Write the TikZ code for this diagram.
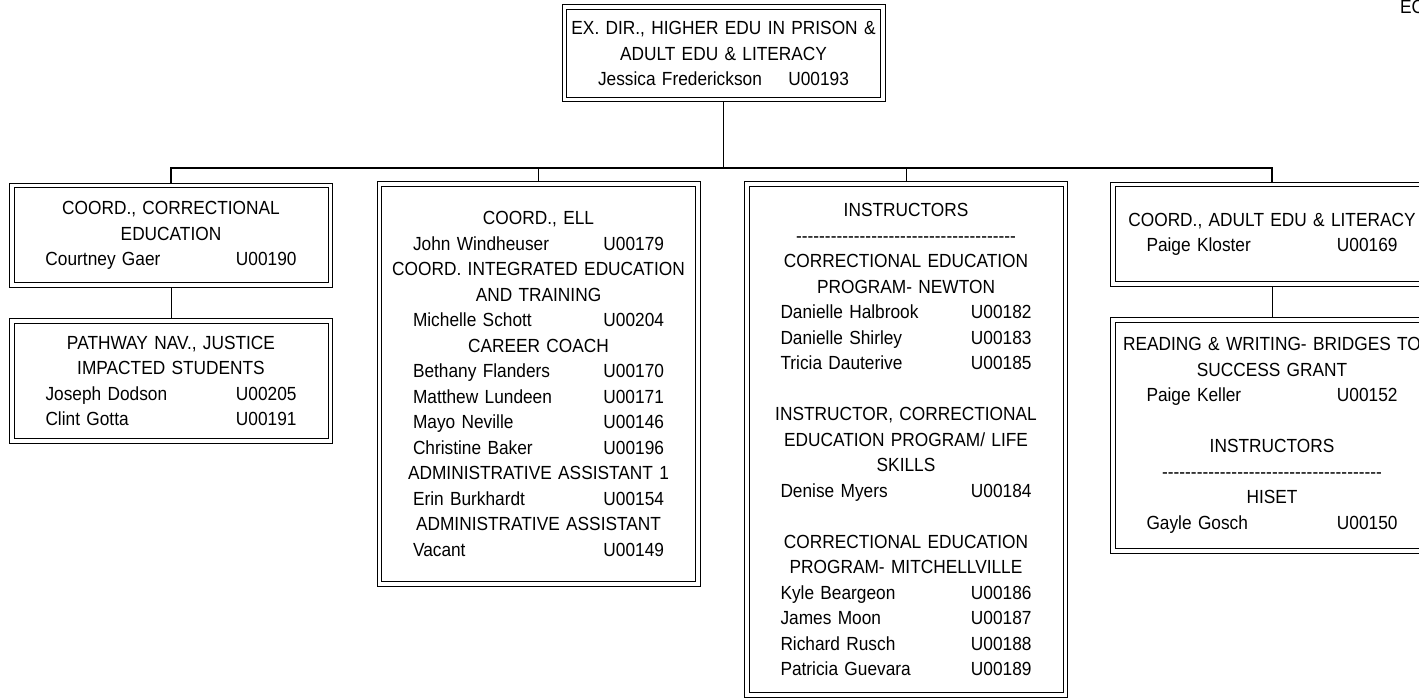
\documentclass[tikz,border=0pt]{standalone}
\usepackage{fontspec}
\setmainfont{Liberation Sans}[FakeStretch=0.91]
\usepackage{tikz}
\tikzstyle{unit} = [rectangle, draw, line width=1pt, inner sep=0pt, minimum width=323pt, text width=310pt, align=center, font=\fontsize{19}{25.5}\selectfont,
  path picture={\draw [line width=1pt] ([shift={(4.5pt,-4.5pt)}]path picture bounding box.north west) rectangle ([shift={(-4.5pt,4.5pt)}]path picture bounding box.south east);}]
\tikzstyle{link} = [draw, line width=1pt]
\tikzstyle{trunk} = [draw, line width=1.8pt]
\newcommand{\who}[2]{\makebox[251pt]{#1\hfill #2}}
\newcommand{\dashline}{\makebox[220pt]{\xleaders\hbox{-}\hfill}}

\begin{document}
\begin{tikzpicture}[x=1pt, y=-1pt]
\useasboundingbox (0,0) rectangle (1419,700);
\clip (0,0) rectangle (1419,700);
\node [unit, minimum height=97pt] (exdir) at (723.5,53.5) {EX. DIR., HIGHER EDU IN PRISON \&\\ADULT EDU \& LITERACY\\\who{Jessica Frederickson}{U00193}};
\node [unit, minimum height=104pt] (corred) at (171,235.5) {COORD., CORRECTIONAL\\EDUCATION\\\who{Courtney Gaer}{U00190}};
\node [unit, minimum height=124pt] (pathway) at (171,381) {PATHWAY NAV., JUSTICE\\IMPACTED STUDENTS\\\who{Joseph Dodson}{U00205}\\\who{Clint Gotta}{U00191}};
\node [unit, minimum height=404pt] (ell) at (538.5,384) {COORD., ELL\\\who{John Windheuser}{U00179}\\COORD. INTEGRATED EDUCATION\\AND TRAINING\\\who{Michelle Schott}{U00204}\\CAREER COACH\\\who{Bethany Flanders}{U00170}\\\who{Matthew Lundeen}{U00171}\\\who{Mayo Neville}{U00146}\\\who{Christine Baker}{U00196}\\ADMINISTRATIVE ASSISTANT 1\\\who{Erin Burkhardt}{U00154}\\ADMINISTRATIVE ASSISTANT\\\who{Vacant}{U00149}};
\node [unit, minimum height=515pt] (instr) at (906,439.5) {INSTRUCTORS\\\dashline\\CORRECTIONAL EDUCATION\\PROGRAM- NEWTON\\\who{Danielle Halbrook}{U00182}\\\who{Danielle Shirley}{U00183}\\\who{Tricia Dauterive}{U00185}\\[25.5pt]INSTRUCTOR, CORRECTIONAL\\EDUCATION PROGRAM/ LIFE\\SKILLS\\\who{Denise Myers}{U00184}\\[25.5pt]CORRECTIONAL EDUCATION\\PROGRAM- MITCHELLVILLE\\\who{Kyle Beargeon}{U00186}\\\who{James Moon}{U00187}\\\who{Richard Rusch}{U00188}\\\who{Patricia Guevara}{U00189}};
\node [unit, minimum height=104pt] (adultlit) at (1272,234.5) {COORD., ADULT EDU \& LITERACY\\\who{Paige Kloster}{U00169}};
\node [unit, minimum height=235pt] (bridges) at (1272,435.5) {READING \& WRITING- BRIDGES TO\\SUCCESS GRANT\\\who{Paige Keller}{U00152}\\[25.5pt]INSTRUCTORS\\\dashline\\HISET\\\who{Gayle Gosch}{U00150}};
\node [anchor=base west, font=\fontsize{19}{25.5}\selectfont, inner sep=0pt] (ec) at (1400,14) {EC};
\coordinate (bus) at (723.5,168);
\path [trunk] (exdir.south) -- (bus);
\path [link, line width=1.5pt] (corred.north) |- (bus) -| (adultlit.north);
\path [link] (ell.north) -- (ell.north |- bus);
\path [link] (instr.north) -- (instr.north |- bus);
\path [link] (corred) -- (pathway);
\path [link] (adultlit) -- (bridges);
\end{tikzpicture}
\end{document}
